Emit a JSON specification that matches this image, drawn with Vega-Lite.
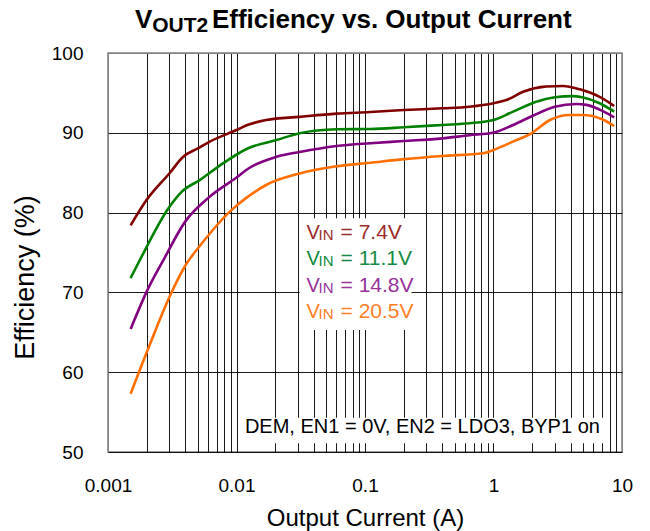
{
  "$schema": "https://vega.github.io/schema/vega-lite/v6.json",
  "width": 514,
  "height": 399,
  "autosize": {"type": "none"},
  "padding": {"left": 108, "top": 53, "right": 28, "bottom": 79},
  "background": "white",
  "config": {"view": {"stroke": "#808080", "strokeWidth": 1.5}, "font": "Liberation Sans"},
  "data": {"values": [
    {"vin": "7.4V", "I": 0.0015, "eff": 78.4},
    {"vin": "7.4V", "I": 0.002, "eff": 81.6},
    {"vin": "7.4V", "I": 0.003, "eff": 84.9},
    {"vin": "7.4V", "I": 0.00385, "eff": 87.0},
    {"vin": "7.4V", "I": 0.005, "eff": 88.05},
    {"vin": "7.4V", "I": 0.0062, "eff": 88.9},
    {"vin": "7.4V", "I": 0.01, "eff": 90.35},
    {"vin": "7.4V", "I": 0.0123, "eff": 91.0},
    {"vin": "7.4V", "I": 0.017, "eff": 91.6},
    {"vin": "7.4V", "I": 0.031, "eff": 92.0},
    {"vin": "7.4V", "I": 0.06, "eff": 92.4},
    {"vin": "7.4V", "I": 0.11, "eff": 92.6},
    {"vin": "7.4V", "I": 0.2, "eff": 92.85},
    {"vin": "7.4V", "I": 0.4, "eff": 93.07},
    {"vin": "7.4V", "I": 0.65, "eff": 93.27},
    {"vin": "7.4V", "I": 1.0, "eff": 93.7},
    {"vin": "7.4V", "I": 1.26, "eff": 94.1},
    {"vin": "7.4V", "I": 1.7, "eff": 95.15},
    {"vin": "7.4V", "I": 2.57, "eff": 95.8},
    {"vin": "7.4V", "I": 3.47, "eff": 95.87},
    {"vin": "7.4V", "I": 4.7, "eff": 95.45},
    {"vin": "7.4V", "I": 6.7, "eff": 94.5},
    {"vin": "7.4V", "I": 8.7, "eff": 93.36},
    {"vin": "11.1V", "I": 0.0015, "eff": 71.8},
    {"vin": "11.1V", "I": 0.00177, "eff": 74.06},
    {"vin": "11.1V", "I": 0.003, "eff": 80.7},
    {"vin": "11.1V", "I": 0.00374, "eff": 82.6},
    {"vin": "11.1V", "I": 0.0052, "eff": 84.1},
    {"vin": "11.1V", "I": 0.0079, "eff": 86.2},
    {"vin": "11.1V", "I": 0.0123, "eff": 88.06},
    {"vin": "11.1V", "I": 0.0205, "eff": 89.1},
    {"vin": "11.1V", "I": 0.031, "eff": 89.94},
    {"vin": "11.1V", "I": 0.06, "eff": 90.44},
    {"vin": "11.1V", "I": 0.11, "eff": 90.48},
    {"vin": "11.1V", "I": 0.2, "eff": 90.69},
    {"vin": "11.1V", "I": 0.4, "eff": 90.98},
    {"vin": "11.1V", "I": 0.65, "eff": 91.19},
    {"vin": "11.1V", "I": 1.0, "eff": 91.6},
    {"vin": "11.1V", "I": 1.42, "eff": 92.65},
    {"vin": "11.1V", "I": 2.15, "eff": 93.9},
    {"vin": "11.1V", "I": 3.0, "eff": 94.45},
    {"vin": "11.1V", "I": 4.1, "eff": 94.6},
    {"vin": "11.1V", "I": 4.9, "eff": 94.45},
    {"vin": "11.1V", "I": 6.7, "eff": 93.7},
    {"vin": "11.1V", "I": 8.7, "eff": 92.65},
    {"vin": "14.8V", "I": 0.0015, "eff": 65.4},
    {"vin": "14.8V", "I": 0.002, "eff": 70.1},
    {"vin": "14.8V", "I": 0.0027, "eff": 74.06},
    {"vin": "14.8V", "I": 0.004, "eff": 78.9},
    {"vin": "14.8V", "I": 0.0062, "eff": 82.0},
    {"vin": "14.8V", "I": 0.01, "eff": 84.4},
    {"vin": "14.8V", "I": 0.0123, "eff": 85.5},
    {"vin": "14.8V", "I": 0.0205, "eff": 87.0},
    {"vin": "14.8V", "I": 0.031, "eff": 87.6},
    {"vin": "14.8V", "I": 0.06, "eff": 88.35},
    {"vin": "14.8V", "I": 0.11, "eff": 88.7},
    {"vin": "14.8V", "I": 0.2, "eff": 88.97},
    {"vin": "14.8V", "I": 0.4, "eff": 89.3},
    {"vin": "14.8V", "I": 0.65, "eff": 89.7},
    {"vin": "14.8V", "I": 0.99, "eff": 90.0},
    {"vin": "14.8V", "I": 1.42, "eff": 90.98},
    {"vin": "14.8V", "I": 2.0, "eff": 92.1},
    {"vin": "14.8V", "I": 3.0, "eff": 93.27},
    {"vin": "14.8V", "I": 4.4, "eff": 93.6},
    {"vin": "14.8V", "I": 5.3, "eff": 93.5},
    {"vin": "14.8V", "I": 6.7, "eff": 92.9},
    {"vin": "14.8V", "I": 8.7, "eff": 91.94},
    {"vin": "20.5V", "I": 0.0015, "eff": 57.3},
    {"vin": "20.5V", "I": 0.00206, "eff": 63.0},
    {"vin": "20.5V", "I": 0.0031, "eff": 69.9},
    {"vin": "20.5V", "I": 0.0041, "eff": 73.65},
    {"vin": "20.5V", "I": 0.005, "eff": 75.5},
    {"vin": "20.5V", "I": 0.0094, "eff": 80.5},
    {"vin": "20.5V", "I": 0.0123, "eff": 82.0},
    {"vin": "20.5V", "I": 0.017, "eff": 83.46},
    {"vin": "20.5V", "I": 0.031, "eff": 84.9},
    {"vin": "20.5V", "I": 0.06, "eff": 85.8},
    {"vin": "20.5V", "I": 0.11, "eff": 86.25},
    {"vin": "20.5V", "I": 0.2, "eff": 86.7},
    {"vin": "20.5V", "I": 0.4, "eff": 87.1},
    {"vin": "20.5V", "I": 0.83, "eff": 87.43},
    {"vin": "20.5V", "I": 1.0, "eff": 87.85},
    {"vin": "20.5V", "I": 1.42, "eff": 88.9},
    {"vin": "20.5V", "I": 2.0, "eff": 90.0},
    {"vin": "20.5V", "I": 2.75, "eff": 91.6},
    {"vin": "20.5V", "I": 3.9, "eff": 92.23},
    {"vin": "20.5V", "I": 4.9, "eff": 92.23},
    {"vin": "20.5V", "I": 7.0, "eff": 91.7},
    {"vin": "20.5V", "I": 8.7, "eff": 90.85}
  ]},
  "layer": [
    {
      "mark": {"type": "line", "strokeWidth": 2.6, "interpolate": "monotone"},
      "encoding": {
        "x": {
          "field": "I", "type": "quantitative",
          "scale": {"type": "log", "domain": [0.001, 10]},
          "axis": {
            "title": "Output Current (A)",
            "values": [0.001, 0.002, 0.003, 0.004, 0.005, 0.006, 0.007, 0.008, 0.009, 0.01, 0.02, 0.03, 0.04, 0.05, 0.06, 0.07, 0.08, 0.09, 0.1, 0.2, 0.3, 0.4, 0.5, 0.6, 0.7, 0.8, 0.9, 1, 2, 3, 4, 5, 6, 7, 8, 9, 10],
            "format": "~g",
            "labelExpr": "(datum.value == 0.001 || datum.value == 0.01 || datum.value == 0.1 || datum.value == 1 || datum.value == 10) ? datum.label : ''",
            "grid": true,
            "gridColor": {"condition": {"test": "datum.value == 0.001 || datum.value == 10", "value": "#808080"}, "value": "#000000"},
            "gridOpacity": 0.9,
            "gridWidth": 1,
            "ticks": false,
            "tickSize": 0,
            "domain": false,
            "labelFontSize": 19,
            "labelColor": "#000000",
            "labelPadding": 24,
            "labelFlush": false,
            "labelOverlap": false,
            "titleFontSize": 24,
            "titleFontWeight": "normal",
            "titleColor": "#000000",
            "titleBaseline": "alphabetic",
            "titleY": 73
          }
        },
        "y": {
          "field": "eff", "type": "quantitative",
          "scale": {"domain": [50, 100]},
          "axis": {
            "title": "Efficiency (%)",
            "values": [50, 60, 70, 80, 90, 100],
            "grid": true,
            "gridColor": {"condition": {"test": "datum.value == 100", "value": "#808080"}, "value": "#000000"},
            "gridOpacity": 0.9,
            "gridWidth": 1,
            "ticks": false,
            "tickSize": 0,
            "domain": false,
            "labelFontSize": 19,
            "labelColor": "#000000",
            "labelPadding": 25,
            "titleFontSize": 27,
            "titleFontWeight": "normal",
            "titleColor": "#000000",
            "titleBaseline": "alphabetic",
            "titleX": -75,
            "titleY": 224
          }
        },
        "color": {
          "field": "vin", "type": "nominal",
          "scale": {"domain": ["7.4V", "11.1V", "14.8V", "20.5V"], "range": ["#800000", "#008000", "#800080", "#FF6F00"]},
          "legend": null
        },
        "order": {"field": "I", "type": "quantitative"}
      }
    },
    {
      "data": {"values": [{}]},
      "mark": {"type": "rect", "fill": "white"},
      "encoding": {
        "x": {"datum": 0.031, "type": "quantitative", "scale": {"type": "log", "domain": [0.001, 10]}},
        "x2": {"datum": 0.23},
        "y": {"datum": 79.3, "type": "quantitative", "scale": {"domain": [50, 100]}},
        "y2": {"datum": 65.3}
      }
    },
    {
      "data": {"values": [{}]},
      "mark": {"type": "rect", "fill": "white"},
      "encoding": {
        "x": {"datum": 0.0106, "type": "quantitative", "scale": {"type": "log", "domain": [0.001, 10]}},
        "x2": {"datum": 7.5},
        "y": {"datum": 54.3, "type": "quantitative", "scale": {"domain": [50, 100]}},
        "y2": {"datum": 51.1}
      }
    },
    {
      "data": {"values": [{}]},
      "mark": {"type": "text", "text": "V", "fontSize": 26, "fontWeight": "bold", "align": "left", "baseline": "alphabetic", "fill": "#000000"},
      "encoding": {
        "x": {"datum": 0.00162, "type": "quantitative", "scale": {"type": "log", "domain": [0.001, 10]}},
        "y": {"datum": 103.1, "type": "quantitative", "scale": {"domain": [50, 100]}}
      }
    },
    {
      "data": {"values": [{}]},
      "mark": {"type": "text", "text": "OUT2", "fontSize": 21, "fontWeight": "bold", "align": "left", "baseline": "alphabetic", "dx": 17.3, "dy": 3.4, "fill": "#000000"},
      "encoding": {
        "x": {"datum": 0.00162, "type": "quantitative", "scale": {"type": "log", "domain": [0.001, 10]}},
        "y": {"datum": 103.1, "type": "quantitative", "scale": {"domain": [50, 100]}}
      }
    },
    {
      "data": {"values": [{}]},
      "mark": {"type": "text", "text": "Efficiency vs. Output Current", "fontSize": 26, "fontWeight": "bold", "align": "left", "baseline": "alphabetic", "dx": 77, "fill": "#000000"},
      "encoding": {
        "x": {"datum": 0.00162, "type": "quantitative", "scale": {"type": "log", "domain": [0.001, 10]}},
        "y": {"datum": 103.1, "type": "quantitative", "scale": {"domain": [50, 100]}}
      }
    },
    {
      "data": {"values": [{}]},
      "mark": {"type": "text", "text": "V", "fontSize": 20, "align": "left", "baseline": "alphabetic", "fill": "#9C2B2B"},
      "encoding": {
        "x": {"datum": 0.0351, "type": "quantitative", "scale": {"type": "log", "domain": [0.001, 10]}},
        "y": {"datum": 76.65, "type": "quantitative", "scale": {"domain": [50, 100]}}
      }
    },
    {
      "data": {"values": [{}]},
      "mark": {"type": "text", "text": "IN", "fontSize": 15, "align": "left", "baseline": "alphabetic", "dx": 12, "dy": 1, "fill": "#9C2B2B"},
      "encoding": {
        "x": {"datum": 0.0351, "type": "quantitative", "scale": {"type": "log", "domain": [0.001, 10]}},
        "y": {"datum": 76.65, "type": "quantitative", "scale": {"domain": [50, 100]}}
      }
    },
    {
      "data": {"values": [{}]},
      "mark": {"type": "text", "text": "= 7.4V", "fontSize": 21, "align": "left", "baseline": "alphabetic", "dx": 34, "fill": "#9C2B2B"},
      "encoding": {
        "x": {"datum": 0.0351, "type": "quantitative", "scale": {"type": "log", "domain": [0.001, 10]}},
        "y": {"datum": 76.65, "type": "quantitative", "scale": {"domain": [50, 100]}}
      }
    },
    {
      "data": {"values": [{}]},
      "mark": {"type": "text", "text": "V", "fontSize": 20, "align": "left", "baseline": "alphabetic", "fill": "#138A43"},
      "encoding": {
        "x": {"datum": 0.0351, "type": "quantitative", "scale": {"type": "log", "domain": [0.001, 10]}},
        "y": {"datum": 73.4, "type": "quantitative", "scale": {"domain": [50, 100]}}
      }
    },
    {
      "data": {"values": [{}]},
      "mark": {"type": "text", "text": "IN", "fontSize": 15, "align": "left", "baseline": "alphabetic", "dx": 12, "dy": 1, "fill": "#138A43"},
      "encoding": {
        "x": {"datum": 0.0351, "type": "quantitative", "scale": {"type": "log", "domain": [0.001, 10]}},
        "y": {"datum": 73.4, "type": "quantitative", "scale": {"domain": [50, 100]}}
      }
    },
    {
      "data": {"values": [{}]},
      "mark": {"type": "text", "text": "= 11.1V", "fontSize": 21, "align": "left", "baseline": "alphabetic", "dx": 34, "fill": "#138A43"},
      "encoding": {
        "x": {"datum": 0.0351, "type": "quantitative", "scale": {"type": "log", "domain": [0.001, 10]}},
        "y": {"datum": 73.4, "type": "quantitative", "scale": {"domain": [50, 100]}}
      }
    },
    {
      "data": {"values": [{}]},
      "mark": {"type": "text", "text": "V", "fontSize": 20, "align": "left", "baseline": "alphabetic", "fill": "#993399"},
      "encoding": {
        "x": {"datum": 0.0351, "type": "quantitative", "scale": {"type": "log", "domain": [0.001, 10]}},
        "y": {"datum": 70.09, "type": "quantitative", "scale": {"domain": [50, 100]}}
      }
    },
    {
      "data": {"values": [{}]},
      "mark": {"type": "text", "text": "IN", "fontSize": 15, "align": "left", "baseline": "alphabetic", "dx": 12, "dy": 1, "fill": "#993399"},
      "encoding": {
        "x": {"datum": 0.0351, "type": "quantitative", "scale": {"type": "log", "domain": [0.001, 10]}},
        "y": {"datum": 70.09, "type": "quantitative", "scale": {"domain": [50, 100]}}
      }
    },
    {
      "data": {"values": [{}]},
      "mark": {"type": "text", "text": "= 14.8V", "fontSize": 21, "align": "left", "baseline": "alphabetic", "dx": 34, "fill": "#993399"},
      "encoding": {
        "x": {"datum": 0.0351, "type": "quantitative", "scale": {"type": "log", "domain": [0.001, 10]}},
        "y": {"datum": 70.09, "type": "quantitative", "scale": {"domain": [50, 100]}}
      }
    },
    {
      "data": {"values": [{}]},
      "mark": {"type": "text", "text": "V", "fontSize": 20, "align": "left", "baseline": "alphabetic", "fill": "#FF7F27"},
      "encoding": {
        "x": {"datum": 0.0351, "type": "quantitative", "scale": {"type": "log", "domain": [0.001, 10]}},
        "y": {"datum": 66.75, "type": "quantitative", "scale": {"domain": [50, 100]}}
      }
    },
    {
      "data": {"values": [{}]},
      "mark": {"type": "text", "text": "IN", "fontSize": 15, "align": "left", "baseline": "alphabetic", "dx": 12, "dy": 1, "fill": "#FF7F27"},
      "encoding": {
        "x": {"datum": 0.0351, "type": "quantitative", "scale": {"type": "log", "domain": [0.001, 10]}},
        "y": {"datum": 66.75, "type": "quantitative", "scale": {"domain": [50, 100]}}
      }
    },
    {
      "data": {"values": [{}]},
      "mark": {"type": "text", "text": "= 20.5V", "fontSize": 21, "align": "left", "baseline": "alphabetic", "dx": 34, "fill": "#FF7F27"},
      "encoding": {
        "x": {"datum": 0.0351, "type": "quantitative", "scale": {"type": "log", "domain": [0.001, 10]}},
        "y": {"datum": 66.75, "type": "quantitative", "scale": {"domain": [50, 100]}}
      }
    },
    {
      "data": {"values": [{}]},
      "mark": {"type": "text", "text": "DEM, EN1 = 0V, EN2 = LDO3, BYP1 on", "fontSize": 20, "align": "left", "baseline": "alphabetic", "fill": "#000000"},
      "encoding": {
        "x": {"datum": 0.01162, "type": "quantitative", "scale": {"type": "log", "domain": [0.001, 10]}},
        "y": {"datum": 52.34, "type": "quantitative", "scale": {"domain": [50, 100]}}
      }
    }
  ]
}
